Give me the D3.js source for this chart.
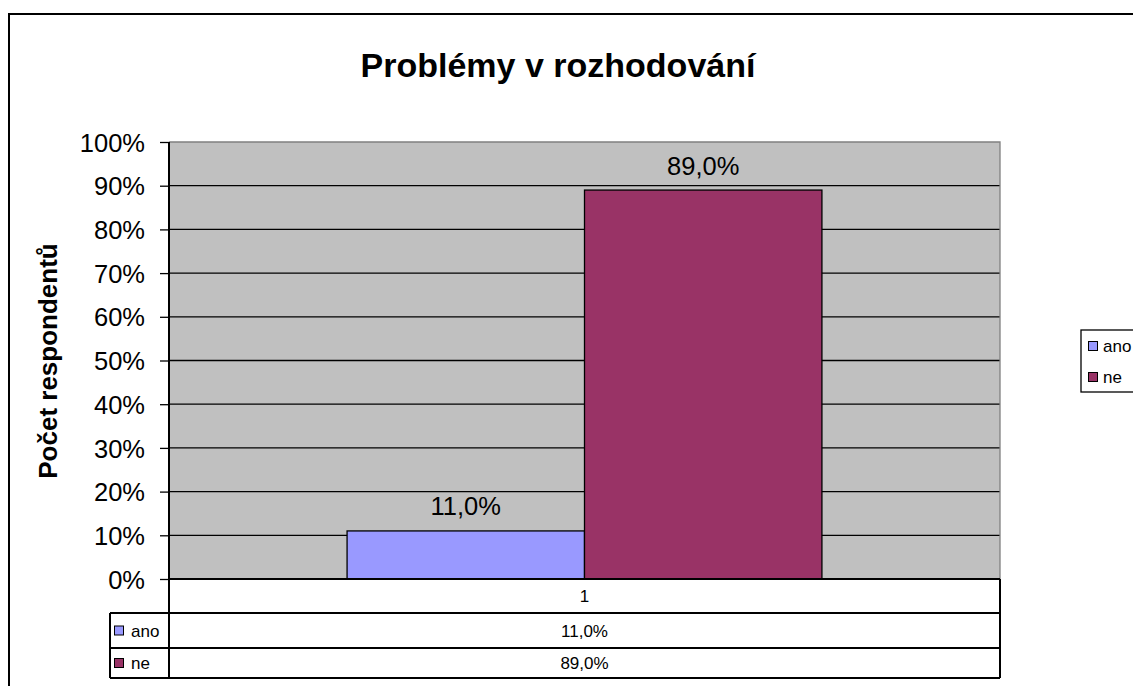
<!DOCTYPE html>
<html>
<head>
<meta charset="utf-8">
<script src="https://cdn.jsdelivr.net/npm/d3@7"></script>
<style>
	body { margin: 0; background: #fff; }
	svg { display: block; font-family: "Liberation Sans", Arial, sans-serif; }
</style>
</head>
<body>
<svg id="chart"></svg>
<script>
const categories = ['1'];
const series = ['ano', 'ne'];
const values = [11.0, 89.0];  // percent, one value per series for category "1"
const seriesColors = ['#9999ff', '#993366'];
const yTicks = [0, 10, 20, 30, 40, 50, 60, 70, 80, 90, 100];

const W = 1133;
const H = 686;
const plot = {left: 169, right: 1000, top: 142, bottom: 579};
const rowBottoms = [613, 648, 678];

const fmt = v => v.toFixed(1).replace('.', ',') + '%';

const svg = d3.select('#chart')
	.attr('width', W)
	.attr('height', H);

// outer chart border (runs off the right and bottom edge)
svg.append('rect')
	.attr('x', 9).attr('y', 14)
	.attr('width', 1140).attr('height', 690)
	.attr('fill', '#fff')
	.attr('stroke', '#000')
	.attr('stroke-width', 2);

svg.append('text')
	.attr('x', 558).attr('y', 77)
	.attr('text-anchor', 'middle')
	.attr('font-size', 34)
	.attr('font-weight', 'bold')
	.text('Problémy v rozhodování');

const y = d3.scaleLinear()
	.domain([0, 100])
	.range([plot.bottom, plot.top]);

const x0 = d3.scaleBand()
	.domain(categories)
	.range([plot.left, plot.right])
	.paddingInner(0)
	.paddingOuter(0.375);

const x1 = d3.scaleBand()
	.domain(series)
	.range([0, x0.bandwidth()]);

// plot background
svg.append('rect')
	.attr('x', plot.left).attr('y', plot.top)
	.attr('width', plot.right - plot.left)
	.attr('height', plot.bottom - plot.top)
	.attr('fill', '#c0c0c0');

// gridlines
svg.append('g')
	.selectAll('line')
	.data(yTicks.filter(d => d > 0 && d < 100))
	.enter().append('line')
	.attr('x1', plot.left).attr('x2', plot.right)
	.attr('y1', d => y(d)).attr('y2', d => y(d))
	.attr('stroke', '#000')
	.attr('stroke-width', 1.3);

// plot frame top/right (grey)
svg.append('path')
	.attr('d', `M${plot.left},${y(100)}H${plot.right}V${plot.bottom}`)
	.attr('fill', 'none')
	.attr('stroke', '#808080')
	.attr('stroke-width', 1.3);

// bars
const bars = svg.append('g');
categories.forEach(cat => {
	bars.selectAll(null)
		.data(series.map((s, i) => ({s, v: values[i], c: seriesColors[i]})))
		.enter().append('rect')
		.attr('x', d => x0(cat) + x1(d.s))
		.attr('y', d => y(d.v))
		.attr('width', x1.bandwidth())
		.attr('height', d => y(0) - y(d.v))
		.attr('fill', d => d.c)
		.attr('stroke', '#000')
		.attr('stroke-width', 1.3);

	bars.selectAll(null)
		.data(series.map((s, i) => ({s, v: values[i]})))
		.enter().append('text')
		.attr('x', d => x0(cat) + x1(d.s) + x1.bandwidth() / 2)
		.attr('y', d => y(d.v) - 15.5)
		.attr('text-anchor', 'middle')
		.attr('font-size', 25.5)
		.text(d => fmt(d.v));
});

// y axis
const yAxis = svg.append('g')
	.attr('transform', `translate(${plot.left},0)`)
	.call(d3.axisLeft(y)
		.tickValues(yTicks)
		.tickSize(9)
		.tickPadding(15)
		.tickFormat(d => d + '%'));
yAxis.select('.domain').remove();
yAxis.selectAll('line').attr('stroke', '#000').attr('stroke-width', 1.3);
yAxis.selectAll('text')
	.attr('font-size', 25.5)
	.attr('dy', '0.36em')
	.attr('font-family', '"Liberation Sans", Arial, sans-serif')
	.attr('fill', '#000');

svg.append('line')
	.attr('x1', plot.left).attr('x2', plot.left)
	.attr('y1', plot.top).attr('y2', rowBottoms[2])
	.attr('stroke', '#000').attr('stroke-width', 2);

svg.append('text')
	.attr('transform', 'translate(57,361) rotate(-90)')
	.attr('text-anchor', 'middle')
	.attr('font-size', 26)
	.attr('font-weight', 'bold')
	.text('Počet respondentů');

// data table
const table = svg.append('g');
table.append('line')
	.attr('x1', plot.left).attr('x2', plot.right)
	.attr('y1', plot.bottom).attr('y2', plot.bottom)
	.attr('stroke', '#000').attr('stroke-width', 2);
rowBottoms.forEach(yb => {
	table.append('line')
		.attr('x1', 110).attr('x2', plot.right)
		.attr('y1', yb).attr('y2', yb)
		.attr('stroke', '#000').attr('stroke-width', 2);
});
table.append('line')
	.attr('x1', 110).attr('x2', 110)
	.attr('y1', rowBottoms[0]).attr('y2', rowBottoms[2])
	.attr('stroke', '#000').attr('stroke-width', 2);
table.append('line')
	.attr('x1', plot.right).attr('x2', plot.right)
	.attr('y1', plot.bottom).attr('y2', rowBottoms[2])
	.attr('stroke', '#000').attr('stroke-width', 2);

categories.forEach(cat => {
	table.append('text')
		.attr('x', x0(cat) + x0.bandwidth() / 2)
		.attr('y', (plot.bottom + rowBottoms[0]) / 2 + 6)
		.attr('text-anchor', 'middle')
		.attr('font-size', 17)
		.text(cat);
});

series.forEach((s, i) => {
	const top = rowBottoms[i];
	const mid = (top + rowBottoms[i + 1]) / 2;
	table.append('rect')
		.attr('x', 114.5).attr('y', mid - 4.5)
		.attr('width', 9).attr('height', 9)
		.attr('fill', seriesColors[i])
		.attr('stroke', '#000').attr('stroke-width', 1);
	table.append('text')
		.attr('x', 131).attr('y', mid + 6)
		.attr('font-size', 17)
		.text(s);
	categories.forEach(cat => {
		table.append('text')
			.attr('x', x0(cat) + x0.bandwidth() / 2)
			.attr('y', mid + 6)
			.attr('text-anchor', 'middle')
			.attr('font-size', 17)
			.text(fmt(values[i]));
	});
});

// legend
const legend = svg.append('g');
legend.append('rect')
	.attr('x', 1081).attr('y', 330)
	.attr('width', 70).attr('height', 62)
	.attr('fill', '#fff')
	.attr('stroke', '#000').attr('stroke-width', 1.3);
series.forEach((s, i) => {
	const cy = 346 + i * 31;
	legend.append('rect')
		.attr('x', 1088.5).attr('y', cy - 4.5)
		.attr('width', 9).attr('height', 9)
		.attr('fill', seriesColors[i])
		.attr('stroke', '#000').attr('stroke-width', 1);
	legend.append('text')
		.attr('x', 1103).attr('y', cy + 6)
		.attr('font-size', 17)
		.text(s);
});
</script>
</body>
</html>
